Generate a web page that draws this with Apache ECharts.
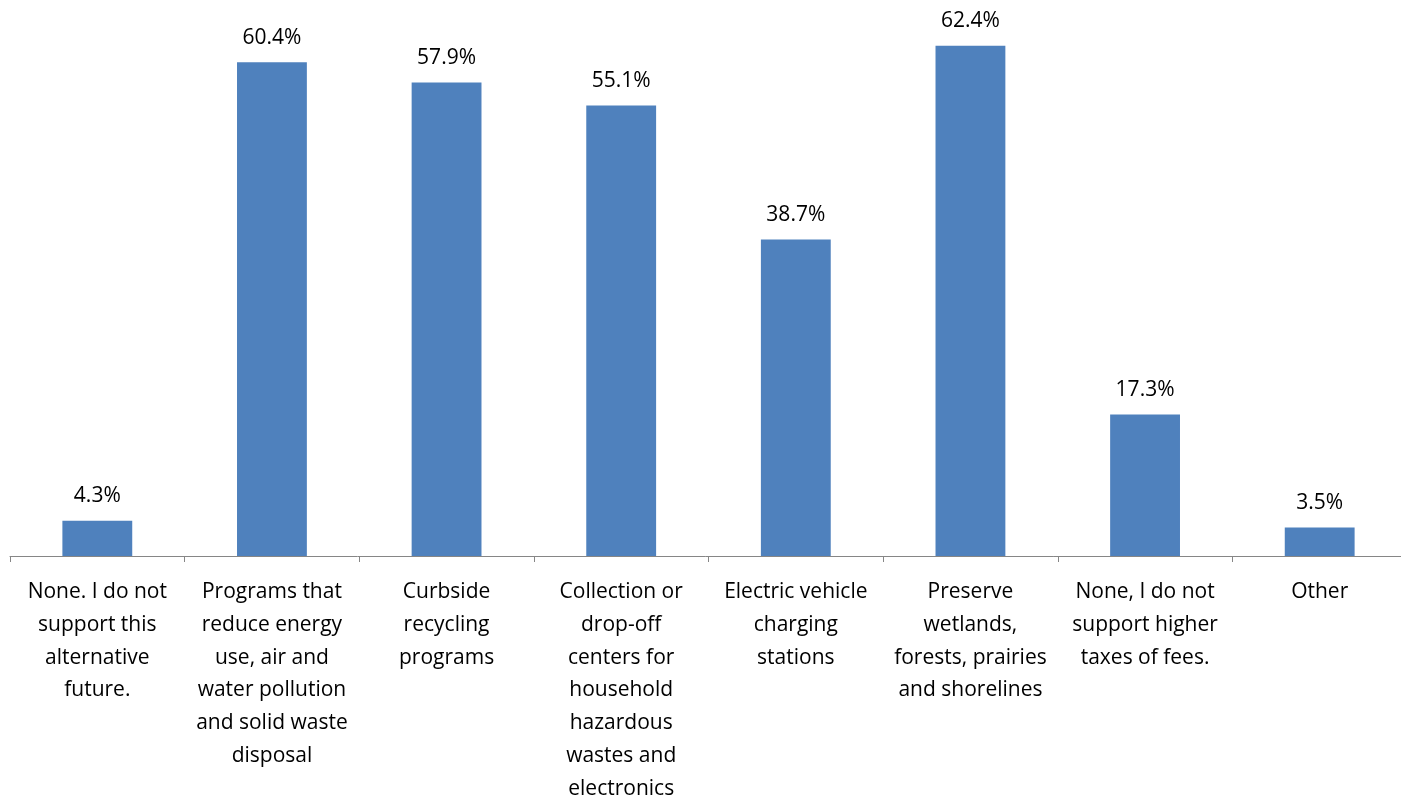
<!DOCTYPE html>
<html>
<head>
<meta charset="utf-8">
<script src="https://cdn.jsdelivr.net/npm/echarts@6/dist/echarts.min.js"></script>
<style>
  html, body { margin: 0; padding: 0; background: #fff; }
  #chart { width: 1401px; height: 798px; }
</style>
</head>
<body>
<div id="chart"></div>
<script>
// categories (line breaks as they wrap under the axis)
var categories = [
	'None. I do not\nsupport this\nalternative\nfuture.',
	'Programs that\nreduce energy\nuse, air and\nwater pollution\nand solid waste\ndisposal',
	'Curbside\nrecycling\nprograms',
	'Collection or\ndrop-off\ncenters for\nhousehold\nhazardous\nwastes and\nelectronics',
	'Electric vehicle\ncharging\nstations',
	'Preserve\nwetlands,\nforests, prairies\nand shorelines',
	'None, I do not\nsupport higher\ntaxes of fees.',
	'Other'
];
var percentValues = [4.3, 60.4, 57.9, 55.1, 38.7, 62.4, 17.3, 3.5];

var font = 'Open Sans';
var myChart = echarts.init(document.getElementById('chart'));

var option = {
	animation: false,
	grid: {
		left: 10,
		width: 1397,
		top: 0,
		bottom: 242,
		containLabel: false,
		outerBoundsMode: 'none'
	},
	xAxis: {
		type: 'category',
		data: categories,
		axisLine: {
			lineStyle: { color: '#868686', width: 1 }
		},
		axisTick: {
			show: true,
			length: 6,
			lineStyle: { color: '#868686' }
		},
		axisLabel: {
			interval: 0,
			margin: 20,
			color: '#000',
			fontFamily: font,
			fontSize: 21,
			lineHeight: 32.7,
			align: 'center'
		}
	},
	yAxis: {
		type: 'value',
		min: 0,
		max: 68,
		show: false,
		splitLine: { show: false }
	},
	series: [{
		type: 'bar',
		data: percentValues,
		barWidth: '40%',
		itemStyle: { color: '#4F81BD' },
		label: {
			show: true,
			position: 'top',
			distance: 14,
			color: '#000',
			fontFamily: font,
			fontSize: 21,
			formatter: function (p) { return p.value.toFixed(1) + '%'; }
		}
	}]
};

myChart.setOption(option);
</script>
</body>
</html>
